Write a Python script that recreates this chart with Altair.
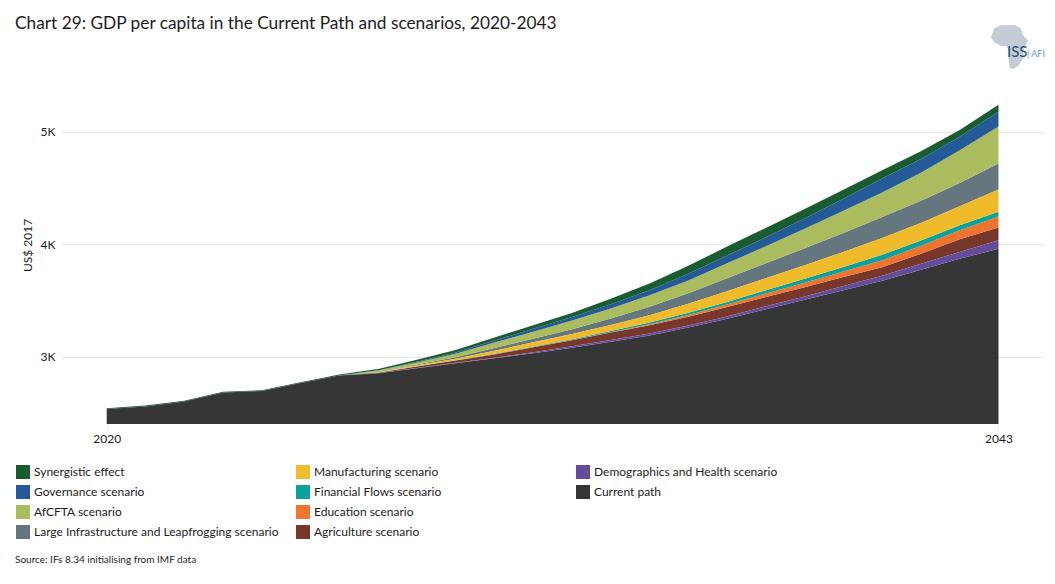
import altair as alt
import pandas as pd

years = list(range(2020, 2044))
current = [2538, 2561, 2605, 2685, 2698, 2769, 2836, 2856, 2900, 2945, 2989, 3034,
           3083, 3135, 3192, 3262, 3340, 3425, 3509, 3594, 3678, 3776, 3874, 3963]
demo = [0, 0, 0, 0, 0, 0, 0, 1, 2, 4, 4, 9, 13, 15, 16, 18, 21, 25, 28, 36, 44, 53, 60, 74]
agri = [0, 0, 0, 0, 0, 0, 0, 4, 13, 20, 30, 44, 53, 67, 75, 78, 83, 84, 84, 80, 76, 89, 113, 113]
edu = [0, 0, 0, 0, 0, 0, 0, 0, 0, 0, 1, 1, 2, 4, 9, 15, 22, 31, 40, 51, 62, 71, 80, 98]
ff = [0, 0, 0, 0, 0, 0, 0, 1, 2, 3, 4, 5, 7, 11, 14, 20, 23, 28, 34, 40, 49, 47, 44, 44]
manu = [0, 0, 0, 0, 0, 0, 0, 4, 9, 13, 27, 37, 46, 53, 65, 81, 95, 107, 120, 133, 148, 156, 169, 196]
infra = [0, 0, 0, 0, 0, 0, 0, 4, 7, 13, 24, 33, 43, 58, 75, 93, 116, 133, 151, 169, 187, 196, 207, 231]
afcfta = [0, 0, 0, 0, 0, 0, 0, 9, 18, 31, 49, 62, 77, 89, 102, 114, 133, 151, 173, 196, 218, 249, 291, 329]
gov = [0, 0, 0, 0, 0, 0, 0, 3, 7, 12, 18, 25, 31, 37, 46, 58, 69, 80, 93, 107, 124, 124, 120, 133]
syn = [7, 7, 7, 7, 7, 7, 9, 11, 18, 22, 27, 32, 37, 49, 59, 71, 80, 83, 84, 80, 74, 67, 60, 62]

names_bottom_up = ["Current path", "Demographics and Health scenario", "Agriculture scenario",
                   "Education scenario", "Financial Flows scenario", "Manufacturing scenario",
                   "Large Infrastructure and Leapfrogging scenario", "AfCFTA scenario",
                   "Governance scenario", "Synergistic effect"]
series_bottom_up = [current, demo, agri, edu, ff, manu, infra, afcfta, gov, syn]
colors = {"Synergistic effect": "#1a5c32", "Governance scenario": "#235a97",
          "AfCFTA scenario": "#abbc5f", "Large Infrastructure and Leapfrogging scenario": "#65767f",
          "Manufacturing scenario": "#f0bb2b", "Financial Flows scenario": "#0ba19c",
          "Education scenario": "#ee7430", "Agriculture scenario": "#78372b",
          "Demographics and Health scenario": "#634d9b", "Current path": "#363636"}
legend_columns = [
    ["Synergistic effect", "Governance scenario", "AfCFTA scenario",
     "Large Infrastructure and Leapfrogging scenario"],
    ["Manufacturing scenario", "Financial Flows scenario", "Education scenario", "Agriculture scenario"],
    ["Demographics and Health scenario", "Current path"],
]
legend_x = [-46, 234, 514]

Y_MIN, Y_MAX = 2404.4, 5400
FONT = "Lato"
TEXT = "#1c1c1c"

rows = []
running = [Y_MIN] * len(years)
for name, values in zip(names_bottom_up, series_bottom_up):
    if name == "Current path":
        tops = list(values)
    else:
        tops = [b + v for b, v in zip(running, values)]
    for yr, lo, hi in zip(years, running, tops):
        rows.append({"year": yr, "series": name, "lo": lo, "hi": hi})
    running = tops
df = pd.DataFrame(rows)

x_scale = alt.Scale(domain=[2018.847, 2044.148], nice=False, zero=False)
y_scale = alt.Scale(domain=[Y_MIN, Y_MAX], nice=False, zero=False)
x_axis = alt.Axis(values=[2020, 2043], format="d", title=None, grid=False, domain=False,
                  tickColor="#e6e6e6", tickSize=4, labelFont=FONT, labelFontSize=12,
                  labelColor=TEXT, labelPadding=5, labelFlush=False)
y_axis = alt.Axis(values=[3000, 4000, 5000], labelExpr="datum.value / 1000 + 'K'", title="US$ 2017",
                  titleFont=FONT, titleFontSize=12, titleFontWeight="normal", titleColor=TEXT,
                  titleX=-28, titleY=158, grid=True, gridColor="#e6e6e6", domain=False, ticks=False,
                  labelFont=FONT, labelFontSize=12, labelColor=TEXT, labelPadding=7)

layers = []
for i, (col, lx) in enumerate(zip(legend_columns, legend_x)):
    layer = alt.Chart(df[df.series.isin(col)]).mark_area(interpolate="linear", strokeWidth=0).encode(
        x=alt.X("year:Q", scale=x_scale, axis=x_axis),
        y=alt.Y("hi:Q", scale=y_scale, axis=y_axis),
        y2="lo:Q",
        detail="series:N",
        color=alt.Color("series:N",
                        scale=alt.Scale(domain=col, range=[colors[c] for c in col]),
                        legend=alt.Legend(title=None, orient="none", legendX=lx, legendY=378,
                                          symbolType="square", symbolSize=196, symbolStrokeWidth=0,
                                          symbolOpacity=1, rowPadding=6, labelFont=FONT,
                                          labelFontSize=12, labelColor=TEXT, labelOffset=4,
                                          labelLimit=320)),
    )
    layers.append(layer)

one = pd.DataFrame({"k": [0]})
title = alt.Chart(one).mark_text(text="Chart 29: GDP per capita in the Current Path and scenarios, 2020-2043",
                                 font=FONT, fontSize=17.3, color=TEXT, align="left",
                                 baseline="middle").encode(x=alt.value(-47), y=alt.value(-63))
source = alt.Chart(one).mark_text(text="Source: IFs 8.34 initialising from IMF data", font=FONT, fontSize=10,
                                  color=TEXT, align="left", baseline="middle").encode(
    x=alt.value(-47), y=alt.value(473))
africa = ("M-.53 -1 L.08 -1 L.35 -.85 L.45 -.55 L.68 -.3 L.55 -.05 L.45 .2 L.5 .45 L.25 .85 L0 1 "
          "L-.15 .95 L-.2 .5 L-.2 .15 L-.3 -.05 L-.55 -.05 L-.85 -.2 L-1 -.45 L-.85 -.85 Z")
logo = alt.Chart(one).mark_point(shape=africa, filled=True, color="#c5ccd6", size=1936, opacity=1,
                                 strokeWidth=0).encode(x=alt.value(951), y=alt.value(-40))
iss = alt.Chart(one).mark_text(text="ISS", font=FONT, fontSize=15, color="#1f4e79", align="left",
                               baseline="alphabetic").encode(x=alt.value(945), y=alt.value(-30))
afi = alt.Chart(one).mark_text(text="| AFI", font=FONT, fontSize=9, color="#5b9bd5", align="left",
                               baseline="alphabetic").encode(x=alt.value(965), y=alt.value(-30))

chart = alt.layer(*layers, title, source, logo, iss, afi).resolve_scale(color="independent").properties(
    width=981, height=337,
    padding={"left": 54, "top": 79, "right": 4, "bottom": 144},
    autosize=alt.AutoSizeParams(type="none"),
    background="white",
).configure_view(strokeWidth=0)

chart.save("out.html", embed_options={"renderer": "svg", "actions": False})
